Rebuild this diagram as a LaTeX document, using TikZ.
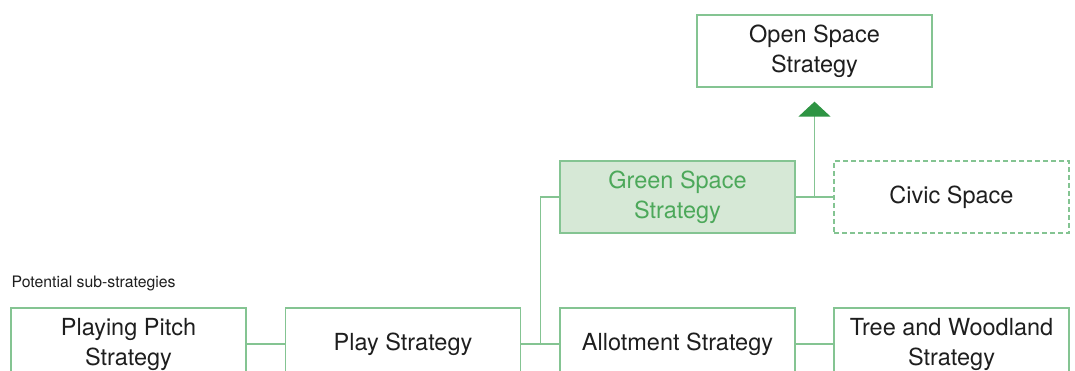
\documentclass[tikz,border=0pt]{standalone}
\usepackage{fontspec}
\setmainfont{TeX Gyre Heros}
\usetikzlibrary{arrows.meta}
\definecolor{linegreen}{RGB}{132,196,146}
\definecolor{darkgreen}{RGB}{46,148,67}
\definecolor{fillgreen}{RGB}{214,232,214}
\definecolor{textgreen}{RGB}{76,168,90}
\definecolor{textgray}{RGB}{30,30,30}
\begin{document}
\begin{tikzpicture}[x=1pt,y=-1pt,line width=1.3pt]
  \tikzstyle{box}=[draw=linegreen,minimum width=235pt,minimum height=72pt,inner sep=0pt,align=center,text=textgray,font=\fontsize{23.5}{30}\selectfont]
  \useasboundingbox (0,0) rectangle (1075,371);
  \clip (0,0) rectangle (1075,371);
  \node[box] (S_open) at (814.5,51) {Open Space\\Strategy};
  \node[box,fill=fillgreen,text=textgreen] (S_green) at (677.5,197) {Green Space\\Strategy};
  \node[box,dashed,dash pattern=on 5pt off 3pt] (S_civic) at (951.5,197) {Civic Space};
  \node[box] (S_pitch) at (128.5,344) {Playing Pitch\\Strategy};
  \node[box] (S_play) at (403,344) {Play Strategy};
  \node[box] (S_allot) at (677.5,344) {Allotment Strategy};
  \node[box] (S_tree) at (951.5,344) {Tree and Woodland\\Strategy};
  \node[anchor=west,inner sep=0pt,text=textgray,font=\fontsize{15.8}{18}\selectfont] (L_sub) at (11,283) {Potential sub-strategies};

  \coordinate (J_1) at (540.5,344);
  \coordinate (J_2) at (814.5,197);

  \draw[linegreen] (S_pitch) -- (S_play);
  \draw[linegreen] (S_play) -- (S_allot);
  \draw[linegreen] (S_allot) -- (S_tree);
  \draw[linegreen] (S_green.west) -| (J_1);
  \draw[linegreen] (S_green) -- (S_civic);
  \draw[linegreen,-{Triangle[width=32pt,length=15pt,color=darkgreen]},shorten >=14pt] (J_2) -- (S_open.south);
\end{tikzpicture}
\end{document}
